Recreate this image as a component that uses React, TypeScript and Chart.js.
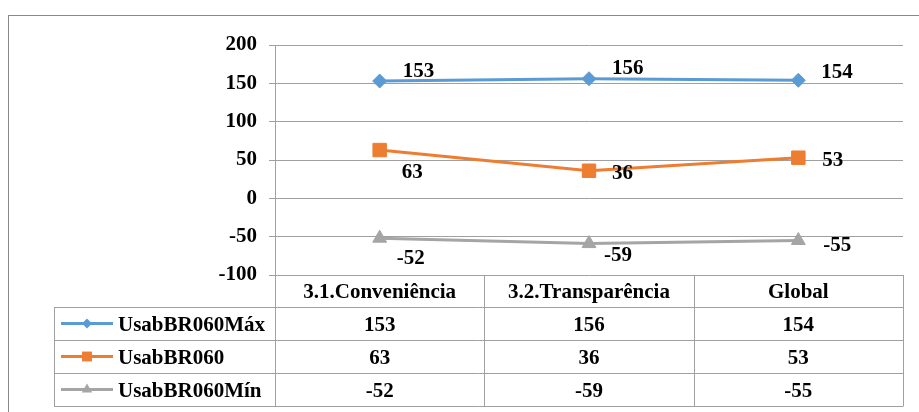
import React, { useEffect, useRef } from 'react';
import { Chart, registerables } from 'chart.js';

Chart.register(...registerables);

const categories = ['3.1.Conveniência', '3.2.Transparência', 'Global'];
const seriesNames = ['UsabBR060Máx', 'UsabBR060', 'UsabBR060Mín'];
const maxValues = [153, 156, 154];
const midValues = [63, 36, 53];
const minValues = [-52, -59, -55];
const yMin = -100;
const yMax = 200;
const yStep = 50;

const seriesValues = [maxValues, midValues, minValues];

// styles
const colors = ['#5B9BD5', '#ED7D31', '#A5A5A5'];
const pointStyles = ['rectRot', 'rect', 'triangle'];
const pointRadii = [7, 9.5, 8];
const legendRadii = [5, 7, 6];
const gridColor = '#A0A0A0';
const borderColor = '#898989';
const FONT = '"Liberation Serif", "Times New Roman", serif';
// data-label offsets [dx, dy] from each point (px)
const labelOffsets = [
  [[23, -9], [23, -10], [23, -8]],
  [[22, 23], [23, 3], [24, 3]],
  [[17, 20], [15, 12], [25, 5]],
];

function drawMarker(ctx: CanvasRenderingContext2D, style: string, x: number, y: number, r: number, color: string) {
  ctx.save();
  ctx.fillStyle = color;
  ctx.beginPath();
  if (style === 'rectRot') {
    ctx.moveTo(x, y - r);
    ctx.lineTo(x + r, y);
    ctx.lineTo(x, y + r);
    ctx.lineTo(x - r, y);
  } else if (style === 'rect') {
    const s = r * Math.SQRT1_2;
    ctx.rect(x - s, y - s, 2 * s, 2 * s);
  } else {
    const h = r * 1.5;
    const w = r * Math.sqrt(3);
    ctx.moveTo(x, y - r);
    ctx.lineTo(x + w / 2, y - r + h);
    ctx.lineTo(x - w / 2, y - r + h);
  }
  ctx.closePath();
  ctx.fill();
  ctx.restore();
}

const tablePlugin = {
  id: 'tableAndLabels',
  beforeDraw(chart: any) {
    const ctx = chart.ctx as CanvasRenderingContext2D;
    ctx.save();
    ctx.strokeStyle = borderColor;
    ctx.lineWidth = 1;
    ctx.strokeRect(8.5, 15.5, 2000, 2000);
    ctx.restore();
  },
  afterDraw(chart: any) {
    const ctx = chart.ctx as CanvasRenderingContext2D;
    const area = chart.chartArea;
    const xs = chart.scales.x;
    const n = categories.length;
    const colW = (area.right - area.left) / n;
    const top = Math.round(area.bottom);
    const headerH = 32;
    const rowH = 33;
    const labelLeft = 54;
    const bottom = top + headerH + rowH * seriesNames.length;

    // data labels
    ctx.save();
    ctx.fillStyle = '#000';
    ctx.font = `bold 21px ${FONT}`;
    ctx.textAlign = 'left';
    ctx.textBaseline = 'middle';
    chart.data.datasets.forEach((ds: any, di: number) => {
      const meta = chart.getDatasetMeta(di);
      meta.data.forEach((pt: any, i: number) => {
        const [dx, dy] = labelOffsets[di][i];
        ctx.fillText(String(ds.data[i]), pt.x + dx, pt.y + dy);
      });
    });
    ctx.restore();

    // table grid
    ctx.save();
    ctx.strokeStyle = gridColor;
    ctx.lineWidth = 1;
    ctx.beginPath();
    for (let r = 0; r <= seriesNames.length; r++) {
      const y = top + headerH + r * rowH + 0.5;
      ctx.moveTo(labelLeft, y);
      ctx.lineTo(area.right, y);
    }
    for (let c = 0; c <= n; c++) {
      const x = Math.round(area.left + c * colW) + 0.5;
      ctx.moveTo(x, top);
      ctx.lineTo(x, bottom + 0.5);
    }
    ctx.moveTo(labelLeft + 0.5, top + headerH);
    ctx.lineTo(labelLeft + 0.5, bottom + 0.5);
    ctx.stroke();
    ctx.restore();

    // header + values
    ctx.save();
    ctx.fillStyle = '#000';
    ctx.font = `bold 21px ${FONT}`;
    ctx.textAlign = 'center';
    ctx.textBaseline = 'middle';
    categories.forEach((cat, i) => {
      const cx = xs.getPixelForValue(i);
      ctx.fillText(cat, cx, top + headerH / 2 + 2);
      seriesValues.forEach((vals, si) => {
        ctx.fillText(String(vals[i]), cx, top + headerH + si * rowH + rowH / 2 + 2);
      });
    });
    // legend keys
    ctx.textAlign = 'left';
    seriesNames.forEach((name, si) => {
      const cy = top + headerH + si * rowH + rowH / 2;
      ctx.save();
      ctx.strokeStyle = colors[si];
      ctx.lineWidth = 3;
      ctx.beginPath();
      ctx.moveTo(61, cy);
      ctx.lineTo(113, cy);
      ctx.stroke();
      ctx.restore();
      drawMarker(ctx, pointStyles[si], 87, cy, legendRadii[si], colors[si]);
      ctx.fillStyle = '#000';
      ctx.fillText(name, 118, cy + 2);
    });
    ctx.restore();
  },
};

export default function App() {
  const ref = useRef<HTMLCanvasElement>(null);
  useEffect(() => {
    document.body.style.margin = '0';
    const canvas = ref.current!;
    const chart = new Chart(canvas, {
      type: 'line',
      data: {
        labels: categories,
        datasets: seriesValues.map((vals, i) => ({
          label: seriesNames[i],
          data: vals,
          borderColor: colors[i],
          backgroundColor: colors[i],
          pointBackgroundColor: colors[i],
          pointBorderColor: colors[i],
          borderWidth: 3,
          pointStyle: pointStyles[i] as any,
          pointRadius: pointRadii[i],
          pointBorderWidth: 1,
          tension: 0,
        })),
      },
      options: {
        responsive: false,
        animation: false,
        events: [],
        layout: { padding: { top: 45, bottom: 137, left: 0, right: 16 } },
        plugins: { legend: { display: false }, tooltip: { enabled: false } },
        scales: {
          x: { display: false, offset: true },
          y: {
            min: yMin,
            max: yMax,
            ticks: {
              stepSize: yStep,
              color: '#000',
              padding: 12,
              font: { family: FONT, size: 21, weight: 'bold' },
            },
            grid: { color: gridColor, tickLength: 6 },
            border: { color: gridColor },
            afterFit: (s: any) => {
              s.width = 275;
            },
          },
        },
      },
      plugins: [tablePlugin],
    } as any);
    return () => chart.destroy();
  }, []);
  return (
    <div style={{ width: 919, height: 412, overflow: 'hidden', background: '#fff' }}>
      <canvas ref={ref} width={919} height={412} style={{ display: 'block' }} />
    </div>
  );
}
